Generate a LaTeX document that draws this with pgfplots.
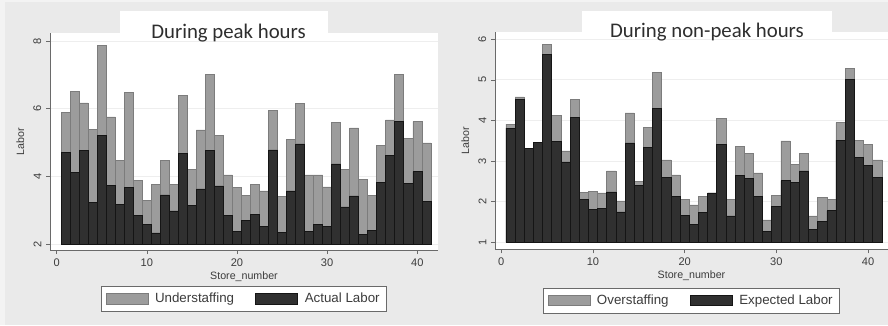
\documentclass[border=0pt]{standalone}
\usepackage{fontspec}
\setmainfont{Liberation Sans}
\newfontfamily\titlefont{Carlito}
\usepackage{pgfplots}
\usepackage{pgfplotstable}
\pgfplotsset{compat=1.18}

\definecolor{outergray}{HTML}{F3F3F3}
\definecolor{bggray}{HTML}{EAEAEA}
\definecolor{lightbar}{HTML}{9C9C9C}
\definecolor{lightedge}{HTML}{7C7C7C}
\definecolor{darkbar}{HTML}{303030}
\definecolor{darkedge}{HTML}{151515}
\definecolor{axisgray}{HTML}{6A6A6A}
\definecolor{labelgray}{HTML}{3C3C3C}
\definecolor{gridgray}{HTML}{EEEEEE}

\pgfplotstableread{
store total actual
1 5.88 4.70
2 6.52 4.12
3 6.17 4.76
4 5.39 3.24
5 7.86 5.22
6 5.76 3.74
7 4.47 3.18
8 6.49 3.68
9 3.87 2.85
10 3.30 2.57
11 3.76 2.33
12 4.47 3.45
13 3.76 2.98
14 6.40 4.68
15 4.21 3.15
16 5.37 3.63
17 7.01 4.76
18 5.22 3.72
19 4.04 2.85
20 3.68 2.37
21 3.43 2.69
22 3.76 2.88
23 3.57 2.52
24 5.94 4.78
25 3.40 2.35
26 5.09 3.57
27 6.15 4.96
28 4.04 2.37
29 4.04 2.57
30 3.69 2.52
31 5.59 4.37
32 4.21 3.10
33 5.43 3.42
34 3.91 2.29
35 3.43 2.41
36 4.92 3.81
37 5.67 4.63
38 7.01 5.62
39 5.12 3.79
40 5.62 4.14
41 4.99 3.25
}\peak

\pgfplotstableread{
store total expected
1 3.91 3.81
2 4.58 4.53
3 3.32 3.31
4 3.47 3.47
5 5.88 5.63
6 4.12 3.48
7 3.25 2.98
8 4.53 4.07
9 2.23 2.05
10 2.25 1.81
11 2.22 1.84
12 2.76 2.24
13 2.02 1.75
14 4.19 3.45
15 2.51 2.41
16 3.83 3.34
17 5.19 4.29
18 3.03 2.60
19 2.66 2.14
20 2.06 1.67
21 1.92 1.45
22 2.14 1.73
23 2.22 2.22
24 4.05 3.42
25 2.06 1.65
26 3.37 2.65
27 3.19 2.57
28 2.71 2.14
29 1.55 1.26
30 2.16 1.88
31 3.50 2.52
32 2.92 2.48
33 3.19 2.76
34 1.65 1.32
35 2.11 1.52
36 2.06 1.78
37 3.95 3.52
38 5.29 5.01
39 3.51 3.09
40 3.42 2.90
41 3.03 2.60
}\offpeak

\pgfplotsset{
  framestyle/.style={
    scale only axis,
    anchor=south west,
    axis lines*=left,
    axis line style={axisgray, line width=0.5pt},
    axis background/.style={fill=white},
    tick align=outside,
    major tick length=3pt,
    tick style={axisgray, line width=0.5pt},
    ymajorgrids,
    grid style={gridgray, line width=0.6pt},
    xtick={0,10,20,30,40},
    /pgf/number format/assume math mode=true,
    tick label style={font=\fontsize{8.3}{9}\selectfont, text=labelgray},
    yticklabel style={rotate=90, anchor=south},
    label style={font=\fontsize{8}{9}\selectfont, text=labelgray},
    xlabel={Store\_number},
    ylabel={Labor},
    xlabel style={yshift=3pt},
  },
  barstyle/.style={
    scale only axis,
    anchor=south west,
    hide axis,
    clip=true,
    legend style={draw=axisgray, fill=white, line width=0.5pt,
      font=\fontsize{10}{12}\selectfont, text=labelgray,
      legend columns=2, anchor=north,
      inner xsep=3pt, inner ysep=3pt,
      /tikz/every odd column/.append style={column sep=3pt},
      /tikz/every even column/.append style={column sep=14pt}},
  },
}

\begin{document}
\begin{tikzpicture}[x=0.75pt, y=0.75pt]
\useasboundingbox (0,0) rectangle (888,325);
\fill[outergray] (0,0) rectangle (888,325);
\fill[bggray] (5,0) rectangle (888,323);

% ---------------- left panel ----------------
\begin{axis}[framestyle, at={(37.5pt,56.25pt)}, width=291pt, height=162.75pt,
  xmin=-0.743, xmax=42.30, ymin=1.823, ymax=8.236, ytick={2,4,6,8}]
\end{axis}
\begin{axis}[barstyle, at={(37.5pt,60.75pt)}, width=291pt, height=158.25pt,
  xmin=-0.743, xmax=42.30, ymin=2, ymax=8.236,
  legend style={at={(0.5,-0.2)}}]
\addplot[ybar, bar width=1, bar shift=0pt, fill=lightbar, draw=lightedge, line width=0.4pt, forget plot]
  table[x=store, y=total]{\peak};
\addplot[ybar, bar width=1, bar shift=0pt, fill=darkbar, draw=darkedge, line width=0.4pt, forget plot]
  table[x=store, y=actual]{\peak};
\addlegendimage{legend image code/.code={\draw[fill=lightbar, draw=lightedge] (0pt,-4pt) rectangle (31.5pt,4pt);}}
\addlegendentry{Understaffing}
\addlegendimage{legend image code/.code={\draw[fill=darkbar, draw=darkedge] (0pt,-4pt) rectangle (31.5pt,4pt);}}
\addlegendentry{Actual Labor}
\end{axis}

% ---------------- right panel ----------------
\begin{axis}[framestyle, at={(371.25pt,56.775pt)}, width=294.75pt, height=163pt,
  xmin=-0.687, xmax=42.18, ymin=0.828, ymax=6.18, ytick={1,2,3,4,5,6}]
\end{axis}
\begin{axis}[barstyle, at={(371.25pt,62.025pt)}, width=294.75pt, height=157.7pt,
  xmin=-0.687, xmax=42.18, ymin=1, ymax=6.18,
  legend style={at={(0.5,-0.215)}}]
\addplot[ybar, bar width=1, bar shift=0pt, fill=lightbar, draw=lightedge, line width=0.4pt, forget plot]
  table[x=store, y=total]{\offpeak};
\addplot[ybar, bar width=1, bar shift=0pt, fill=darkbar, draw=darkedge, line width=0.4pt, forget plot]
  table[x=store, y=expected]{\offpeak};
\addlegendimage{legend image code/.code={\draw[fill=lightbar, draw=lightedge] (0pt,-4pt) rectangle (31.5pt,4pt);}}
\addlegendentry{Overstaffing}
\addlegendimage{legend image code/.code={\draw[fill=darkbar, draw=darkedge] (0pt,-4pt) rectangle (31.5pt,4pt);}}
\addlegendentry{Expected Labor}
\end{axis}

% ---------------- titles ----------------
\fill[white] (120,314) rectangle (328,291.5);
\node[anchor=base, font=\titlefont\fontsize{15.6}{18}\selectfont, text=black!82] at (228.5,286.5) {During peak hours};
\fill[white] (582,314) rectangle (832,292);
\node[anchor=base, font=\titlefont\fontsize{15.6}{18}\selectfont, text=black!82] at (707,287) {During non-peak hours};
\end{tikzpicture}
\end{document}
